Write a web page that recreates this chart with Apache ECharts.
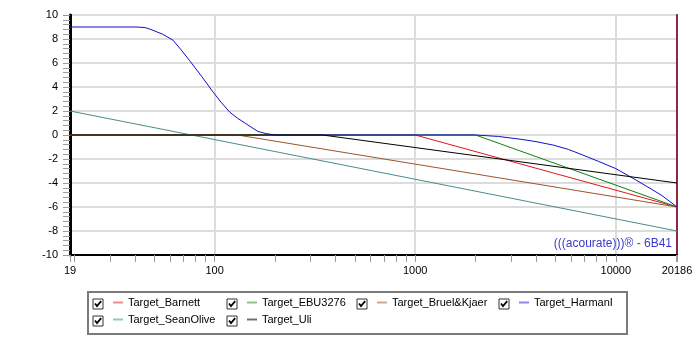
<!DOCTYPE html>
<html>
<head>
<meta charset="utf-8">
<script src="https://cdn.jsdelivr.net/npm/echarts@6/dist/echarts.min.js"></script>
<style>
  html, body { margin: 0; padding: 0; background: #fff; }
  #chart { width: 700px; height: 350px; }
</style>
</head>
<body>
<div id="chart"></div>
<script>
// Frequency axis: labelled ticks and the minor (20, 30, ... 90, 200, ...) ticks
const xTickLabels = [19, 100, 1000, 10000, 20186];
const xMinorTicks = [19, 20, 30, 40, 50, 60, 70, 80, 90,
  100, 200, 300, 400, 500, 600, 700, 800, 900,
  1000, 2000, 3000, 4000, 5000, 6000, 7000, 8000, 9000,
  10000, 20000, 20186];

// Target curves: frequency (Hz) and level (dB)
const barnettFreq = [19, 1000, 20186];
const barnettDb   = [0, 0, -6];

const ebuFreq = [19, 2000, 20186];
const ebuDb   = [0, 0, -6];

const bkFreq = [19, 130, 20186];
const bkDb   = [0, 0, -6];

const harmanFreq = [19, 41, 45, 48, 55, 62, 68, 75, 86, 98, 108, 119, 130, 143, 164, 180, 200,
  2000, 2600, 3370, 4000, 4900, 5800, 6800, 8200, 10000, 12600, 15000, 17000, 20186];
const harmanDb   = [9, 9, 8.95, 8.8, 8.4, 7.9, 7.1, 6.2, 4.9, 3.6, 2.7, 1.9, 1.4, 0.95, 0.3, 0.12, 0,
  0, -0.12, -0.36, -0.55, -0.85, -1.2, -1.65, -2.2, -2.8, -3.75, -4.5, -5.05, -6];

const oliveFreq = [19, 20186];
const oliveDb   = [2, -8];

const uliFreq = [19, 345, 20186];
const uliDb   = [0, 0, -4];

const seriesNames = ['Target_Barnett', 'Target_EBU3276', 'Target_Bruel&Kjaer',
  'Target_HarmanI', 'Target_SeanOlive', 'Target_Uli'];
const seriesFreqs = [barnettFreq, ebuFreq, bkFreq, harmanFreq, oliveFreq, uliFreq];
const seriesDbs   = [barnettDb, ebuDb, bkDb, harmanDb, oliveDb, uliDb];

const lineColors   = ['#e01818', '#108010', '#a0522d', '#1010c8', '#4a8c8c', '#000000'];
const legendColors = ['#f08a8a', '#88c488', '#c8a890', '#8a8ae4', '#98c4c4', '#707070'];

// Legend slots (checkbox x, row y) laid out as a two-row grid
const legendSlots = [
  { x: 93, y: 299 }, { x: 227, y: 299 }, { x: 357, y: 299 }, { x: 499, y: 299 },
  { x: 93, y: 316 }, { x: 227, y: 316 }
];

const FONT = '"Liberation Sans", Arial, sans-serif';

const chart = echarts.init(document.getElementById('chart'));

const series = seriesNames.map((name, i) => ({
  name: name,
  type: 'line',
  xAxisIndex: 0,
  yAxisIndex: 0,
  symbol: 'none',
  showSymbol: false,
  animation: false,
  color: lineColors[i],
  lineStyle: { width: 1, color: lineColors[i] },
  data: seriesFreqs[i].map((f, k) => [f, seriesDbs[i][k]])
}));

const legends = seriesNames.map((name, i) => ({
  show: true,
  left: legendSlots[i].x + 20,
  top: legendSlots[i].y - 2,
  padding: 0,
  icon: 'rect',
  itemWidth: 10,
  itemHeight: 2,
  selectedMode: false,
  textStyle: { fontFamily: FONT, fontSize: 11, color: '#000' },
  data: [{ name: name, itemStyle: { color: legendColors[i] } }]
}));

function checkbox(x, y) {
  return {
    type: 'group',
    children: [
      { type: 'rect', shape: { x: x, y: y, width: 10, height: 10 },
        style: { fill: '#fff', stroke: '#333', lineWidth: 1 } },
      { type: 'polyline', shape: { points: [[x + 2, y + 4.5], [x + 4, y + 7], [x + 8.2, y + 2.2]] },
        style: { stroke: '#000', lineWidth: 1.8, fill: null } }
    ]
  };
}

const graphics = [
  { type: 'rect', shape: { x: 88, y: 292, width: 539, height: 42 },
    style: { fill: null, stroke: '#7a7a7a', lineWidth: 2 } },
  ...legendSlots.map(s => checkbox(s.x, s.y)),
  { type: 'text', right: 28, top: 238, z: 10,
    style: { text: '(((acourate)))® - 6B41', fill: '#3a3ad0',
      font: '12px ' + FONT } }
];

const logAxisBase = {
  type: 'log',
  logBase: 10,
  min: 19,
  max: 20186,
  gridIndex: 0,
  position: 'bottom'
};

chart.setOption({
  animation: false,
  backgroundColor: '#ffffff',
  grid: {
    left: 70, right: 23, top: 15, bottom: 95,
    show: true, borderColor: '#808080', borderWidth: 2,
    containLabel: false, outerBoundsMode: 'none'
  },
  legend: legends,
  graphic: graphics,
  xAxis: [
    // main frequency axis: labels and vertical grid lines
    Object.assign({}, logAxisBase, {
      axisLine: { show: true, onZero: false, lineStyle: { color: '#000', width: 2 } },
      axisTick: { show: false },
      axisLabel: { customValues: xTickLabels, margin: 10, color: '#000',
        fontFamily: FONT, fontSize: 11,
        formatter: v => String(Math.round(v)) },
      splitLine: { show: true, lineStyle: { color: '#dcdcdc', width: 2 } }
    }),
    // companion axis carrying only the decade sub-ticks
    Object.assign({}, logAxisBase, {
      axisLine: { show: false, onZero: false },
      axisTick: { show: true, length: 7, customValues: xMinorTicks,
        lineStyle: { color: '#9a9a9a', width: 1 } },
      axisLabel: { show: false },
      splitLine: { show: false }
    })
  ],
  yAxis: [{
    type: 'value',
    min: -10,
    max: 10,
    interval: 2,
    axisLine: { show: true, onZero: false, lineStyle: { color: '#000', width: 3 } },
    axisTick: { show: true, length: 7, lineStyle: { color: '#9a9a9a', width: 1 } },
    minorTick: { show: true, splitNumber: 5, length: 7, lineStyle: { color: '#9a9a9a', width: 1 } },
    axisLabel: { margin: 12, color: '#000', fontFamily: FONT, fontSize: 11 },
    splitLine: { show: true, lineStyle: { color: '#dcdcdc', width: 2 } }
  }, {
    type: 'value',
    position: 'right',
    min: -10,
    max: 10,
    axisLine: { show: true, onZero: false, lineStyle: { color: '#8a2a40', width: 2 } },
    axisTick: { show: false },
    axisLabel: { show: false },
    splitLine: { show: false }
  }],
  series: series
});
</script>
</body>
</html>
